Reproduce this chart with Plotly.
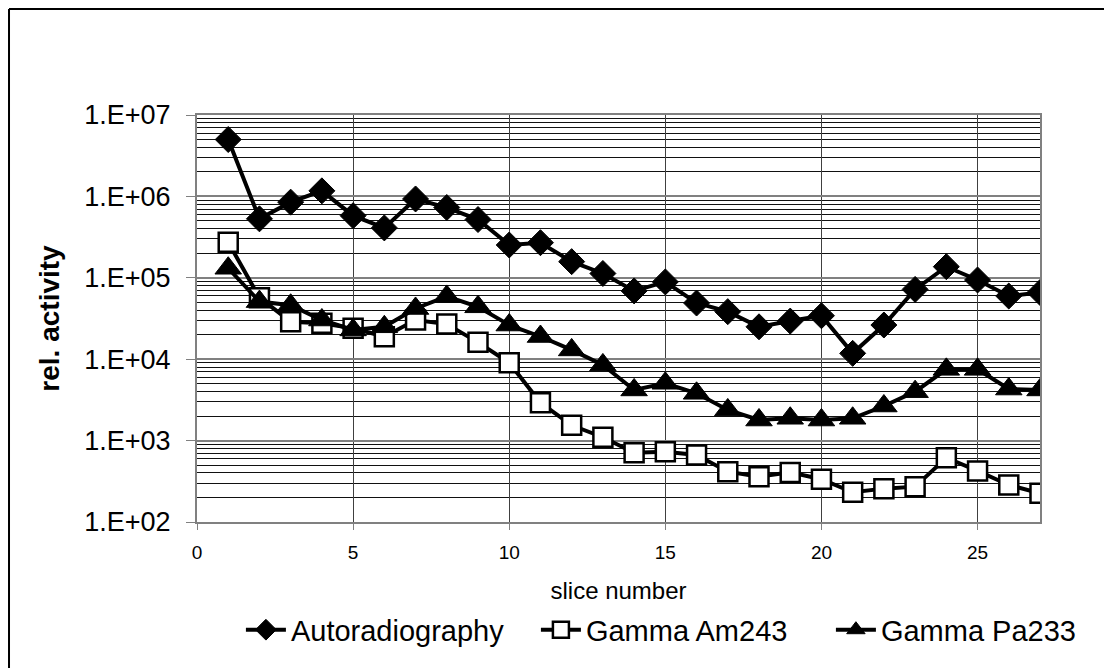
import plotly.graph_objects as go

slices = list(range(1, 28))
autoradiography = [5.0e6, 5.3e5, 8.5e5, 1.17e6, 5.8e5, 4.1e5, 9.3e5, 7.3e5, 5.2e5, 2.53e5,
                   2.7e5, 1.58e5, 1.13e5, 6.9e4, 8.9e4, 4.9e4, 3.84e4, 2.5e4, 2.94e4, 3.42e4,
                   1.18e4, 2.63e4, 7.2e4, 1.37e5, 9.4e4, 5.97e4, 6.6e4]
gamma_am243 = [2.73e5, 5.7e4, 2.89e4, 2.76e4, 2.4e4, 1.89e4, 3.03e4, 2.7e4, 1.61e4, 9.05e3,
               2.92e3, 1.54e3, 1.1e3, 710, 731, 665, 415, 360, 407, 335,
               232, 257, 272, 616, 424, 285, 225]
gamma_pa233 = [1.31e5, 5.1e4, 4.6e4, 3.03e4, 2.29e4, 2.5e4, 4.2e4, 5.9e4, 4.4e4, 2.63e4,
               1.9e4, 1.3e4, 8.5e3, 4.19e3, 5.06e3, 3.81e3, 2.38e3, 1.79e3, 1.88e3, 1.79e3,
               1.88e3, 2.66e3, 3.99e3, 7.5e3, 7.5e3, 4.3e3, 4.19e3]

x_ticks = [0, 5, 10, 15, 20, 25]
y_ticks = [1e2, 1e3, 1e4, 1e5, 1e6, 1e7]
y_ticktext = ["1.E+02", "1.E+03", "1.E+04", "1.E+05", "1.E+06", "1.E+07"]

FONT = "Liberation Sans, Arial, sans-serif"

fig = go.Figure()
fig.add_trace(go.Scatter(
    x=slices, y=autoradiography, name="Autoradiography", mode="lines+markers",
    line=dict(color="black", width=4),
    marker=dict(symbol="diamond", size=20, color="black", line=dict(color="black", width=1)),
))
fig.add_trace(go.Scatter(
    x=slices, y=gamma_am243, name="Gamma Am243", mode="lines+markers",
    line=dict(color="black", width=4),
    marker=dict(symbol="square", size=19, color="white", line=dict(color="black", width=2.5)),
))
fig.add_trace(go.Scatter(
    x=slices, y=gamma_pa233, name="Gamma Pa233", mode="lines+markers",
    line=dict(color="black", width=4),
    marker=dict(symbol="triangle-up", size=23, color="black", line=dict(color="black", width=1)),
))

# plot area in figure pixels: left 189, right 1032, top 107, bottom 514 (407 tall, 843 wide)
fig.update_layout(
    width=1112, height=668,
    margin=dict(l=189, r=80, t=107, b=154),
    paper_bgcolor="white", plot_bgcolor="white",
    font=dict(family=FONT, color="black"),
    showlegend=True,
    legend=dict(orientation="h", x=-0.0001, xanchor="left", y=-0.265, yanchor="middle",
                font=dict(size=29, family=FONT), itemwidth=40, entrywidth=196,
                indentation=44, tracegroupgap=0, bgcolor="rgba(0,0,0,0)"),
    xaxis=dict(
        range=[0, 27], tickvals=x_ticks, ticks="outside", ticklen=6, tickcolor="#808080",
        showline=True, linecolor="#808080", linewidth=2, mirror=True,
        showgrid=True, gridcolor="#404040", gridwidth=1, zeroline=False,
        tickfont=dict(size=19, family=FONT), ticklabelstandoff=6,
        title=dict(text="slice number", font=dict(size=24, family=FONT), standoff=20),
    ),
    yaxis=dict(
        type="log", range=[2, 7], tickvals=y_ticks, ticktext=y_ticktext,
        ticks="outside", ticklen=9, tickcolor="#808080",
        showline=True, linecolor="#808080", linewidth=2, mirror=True,
        showgrid=True, gridcolor="#808080", gridwidth=2, zeroline=False,
        tickfont=dict(size=27, family=FONT), ticklabelstandoff=10,
        minor=dict(showgrid=True, gridcolor="#111111", gridwidth=1, dtick="D1", ticks=""),
        title=dict(text="<b>rel. activity</b>", font=dict(size=28, family=FONT), standoff=16),
    ),
    shapes=[
        dict(type="line", xref="paper", yref="paper", x0=-0.2230, x1=-0.2230, y0=-0.4, y1=1.2604,
             line=dict(color="black", width=2)),
        dict(type="line", xref="paper", yref="paper", x0=-0.2230, x1=1.2, y0=1.2604, y1=1.2604,
             line=dict(color="black", width=2)),
    ],
)

fig.write_html("out.html")
